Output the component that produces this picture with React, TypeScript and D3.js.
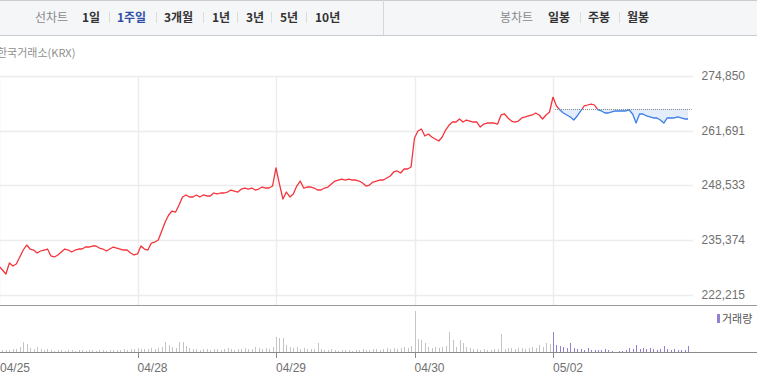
import React from 'react';
import * as d3 from 'd3';

// ---------- data ----------
const DATES = ['04/25', '04/28', '04/29', '04/30', '05/02'];

const PRICE_0425 = [229190, 228220, 227260, 229910, 229190, 229670, 231350, 233030, 234230, 233270, 233030, 232310, 232790, 233030, 233270, 231590, 231350, 231830, 232550, 233270, 233030, 232550, 233030, 233270, 233270, 233750, 233750, 233990, 233990, 233510, 233270, 232790, 233270, 233750, 233510, 233270, 233030, 233030, 232310, 231830];
const PRICE_0428 = [232070, 233990, 233270, 233030, 234710, 234950, 235430, 237600, 239760, 241440, 242400, 242160, 243850, 245770, 246250, 245770, 245770, 246250, 245770, 246250, 246010, 246010, 246730, 246490, 246730, 246730, 246970, 247450, 247210, 246970, 247690, 247930, 247690, 247930, 247450, 247690, 248170, 247930, 247930, 248410];
const PRICE_0429 = [252740, 248890, 245290, 246970, 245770, 246490, 248410, 249610, 247930, 248170, 248170, 247930, 247450, 247450, 247930, 248170, 248890, 249610, 249850, 250090, 249850, 250090, 249850, 249850, 249610, 249130, 248410, 248650, 249370, 249610, 249850, 249850, 250340, 250820, 251780, 252020, 251540, 252500, 252500, 252980];
const PRICE_0430 = [259950, 261630, 262110, 260430, 260910, 260190, 259710, 259230, 260190, 261870, 263070, 263790, 263790, 264520, 263790, 264270, 264030, 263790, 263790, 262590, 263310, 263550, 263550, 263550, 263310, 265480, 265720, 264760, 264030, 263790, 264030, 264760, 265000, 265240, 265480, 265960, 265480, 264520, 265480, 266200];
const PRICE_0502 = [269800, 267640, 266680, 265960, 265480, 265000, 264270, 265240, 266440, 267640, 267880, 268120, 267880, 266680, 266440, 265960, 265960, 266200, 266440, 266440, 266440, 266440, 266680, 265720, 263550, 265720, 265720, 265240, 265000, 264760, 264760, 264270, 263550, 264760, 264760, 264760, 265000, 264760, 264520, 264520];

const VOL_0425 = [2, 2, 2, 2, 3, 3, 5, 10, 8, 4, 3, 5, 3, 2, 3, 2, 1, 2, 2, 1, 2, 2, 1, 2, 2, 1, 2, 2, 1, 2, 2, 1, 2, 2, 2, 2, 3, 2, 3, 3];
const VOL_0428 = [4, 3, 3, 3, 4, 3, 4, 5, 10, 7, 5, 4, 10, 10, 6, 4, 3, 3, 2, 3, 3, 2, 3, 3, 2, 3, 4, 3, 2, 3, 3, 4, 3, 3, 5, 4, 3, 4, 3, 5];
const VOL_0429 = [15, 14, 14, 7, 5, 4, 5, 3, 4, 3, 3, 3, 9, 3, 2, 2, 3, 2, 1, 2, 2, 2, 1, 2, 2, 3, 2, 2, 3, 3, 2, 3, 4, 3, 4, 3, 4, 5, 4, 6];
const VOL_0430 = [41, 13, 12, 9, 5, 4, 5, 4, 5, 6, 20, 12, 5, 12, 9, 5, 4, 3, 3, 2, 3, 2, 2, 3, 3, 18, 3, 4, 4, 3, 4, 4, 3, 4, 5, 4, 7, 5, 9, 8];
const VOL_0502 = [20, 7, 6, 5, 4, 9, 4, 3, 3, 2, 4, 2, 2, 2, 2, 3, 2, 1, 0, 1, 1, 2, 4, 3, 7, 3, 4, 3, 4, 3, 2, 3, 6, 3, 2, 3, 2, 2, 2, 6];

const PRICES = [PRICE_0425, PRICE_0428, PRICE_0429, PRICE_0430, PRICE_0502];
const VOLUMES = [VOL_0425, VOL_0428, VOL_0429, VOL_0430, VOL_0502];

const Y_TICKS = [274850, 261691, 248533, 235374, 222215];
const PREV_CLOSE = 266920;

const TABS_LINE = ['1일', '1주일', '3개월', '1년', '3년', '5년', '10년'];
const TABS_CANDLE = ['일봉', '주봉', '월봉'];

// ---------- layout ----------
const W = 757;
const H = 385;
const TAB_LINE_X = [82, 117, 164, 212, 246, 280, 315];
const TAB_LINE_SEP = [109.5, 156.5, 203.5, 237.5, 271.5, 306.5];
const TAB_CANDLE_X = [548, 588, 627];
const TAB_CANDLE_SEP = [580.5, 619.5];

type Pt = { t: number; p: number; v: number; d: number };

export default function App() {
  const N = 40;
  const pts: Pt[] = [];
  PRICES.forEach((arr, d) =>
    arr.forEach((p, i) => pts.push({ t: d + i / N, p, v: VOLUMES[d][i] * 1000, d }))
  );

  const x = d3.scaleLinear().domain([0, DATES.length]).range([-1, 691.5]);
  const y = d3.scaleLinear().domain([222215, 274850]).range([295, 76]);
  const yv = d3.scaleLinear().domain([0, 47000]).range([352, 305]);

  const line = d3
    .line<Pt>()
    .x((q) => x(q.t))
    .y((q) => y(q.p));
  const yRef = y(PREV_CLOSE);
  const area = d3
    .area<Pt>()
    .x((q) => x(q.t))
    .y0(yRef)
    .y1((q) => y(q.p));

  const lastDay = DATES.length - 1;
  const past = pts.filter((q) => q.d < lastDay);
  past.push(pts.find((q) => q.d === lastDay)!);
  const today = pts.filter((q) => q.d === lastDay);
  const xToday = x(lastDay);

  const red = '#f4343c';
  const blue = '#3c7ee6';
  const font = '"Noto Sans CJK KR", "Noto Sans", sans-serif';
  const numFont = '"Liberation Sans", Arial, sans-serif';

  return (
    <div style={{ position: 'fixed', left: 0, top: 0 }}>
      <svg width={W} height={H} style={{ display: 'block', background: '#fff' }}>
        <defs>
          <clipPath id="above">
            <rect x={xToday} y={0} width={W - xToday} height={yRef} />
          </clipPath>
          <clipPath id="below">
            <rect x={xToday} y={yRef} width={W - xToday} height={H - yRef} />
          </clipPath>
        </defs>

        {/* tab bar */}
        <rect x={0} y={0} width={W} height={35} fill="#f5f6f8" />
        <line x1={0} x2={W} y1={0.5} y2={0.5} stroke="#c9cbd0" />
        <line x1={0} x2={W} y1={35.5} y2={35.5} stroke="#c9cbd0" />
        <line x1={383.5} x2={383.5} y1={0} y2={35} stroke="#d5d7db" />
        <text x={35} y={22} fontFamily={font} fontSize={12} fill="#8a8a8a">
          선차트
        </text>
        {TABS_LINE.map((t, i) => (
          <text
            key={t}
            x={TAB_LINE_X[i]}
            y={22}
            fontFamily={font}
            fontSize={12}
            fontWeight={700}
            fill={i === 1 ? '#2f4fa6' : '#333'}
          >
            {t}
          </text>
        ))}
        {TAB_LINE_SEP.map((sx) => (
          <line key={sx} x1={sx} x2={sx} y1={12} y2={23} stroke="#dcdcdc" />
        ))}
        <text x={500} y={22} fontFamily={font} fontSize={12} fill="#8a8a8a">
          봉차트
        </text>
        {TABS_CANDLE.map((t, i) => (
          <text key={t} x={TAB_CANDLE_X[i]} y={22} fontFamily={font} fontSize={12} fontWeight={700} fill="#333">
            {t}
          </text>
        ))}
        {TAB_CANDLE_SEP.map((sx) => (
          <line key={sx} x1={sx} x2={sx} y1={12} y2={23} stroke="#dcdcdc" />
        ))}

        {/* source */}
        <text x={-3} y={57} fontFamily={font} fontSize={11} fill="#8f8f8f">
          한국거래소(KRX)
        </text>

        {/* grid */}
        {Y_TICKS.map((v) => (
          <line key={v} x1={0} x2={693} y1={Math.round(y(v)) + 0.5} y2={Math.round(y(v)) + 0.5} stroke="#ececec" strokeWidth={1.5} />
        ))}
        {DATES.map((d, i) => (
          <line key={d} x1={Math.round(x(i)) + 0.5} x2={Math.round(x(i)) + 0.5} y1={76} y2={305} stroke="#ececec" strokeWidth={1.5} />
        ))}
        {Y_TICKS.map((v) => (
          <text key={'l' + v} x={745} y={y(v) + 4} textAnchor="end" fontFamily={numFont} fontSize={12} fill="#707070">
            {d3.format(',')(v)}
          </text>
        ))}

        {/* today fill & reference */}
        <path d={area(today)!} fill="#e4edfb" clipPath="url(#below)" />
        <line x1={xToday + 2} x2={x(DATES.length)} y1={Math.round(yRef) + 0.5} y2={Math.round(yRef) + 0.5} stroke="#8c8c8c" strokeDasharray="1,1" />

        {/* price lines */}
        <path d={line(past)!} fill="none" stroke={red} strokeWidth={1.3} strokeLinejoin="round" />
        <path d={line(today)!} fill="none" stroke={red} strokeWidth={1.3} strokeLinejoin="round" clipPath="url(#above)" />
        <path d={line(today)!} fill="none" stroke={blue} strokeWidth={1.3} strokeLinejoin="round" clipPath="url(#below)" />

        {/* pane separators */}
        <line x1={0} x2={W} y1={305.5} y2={305.5} stroke="#9a9a9a" />

        {/* volume */}
        {pts.map((q, i) => (
          <rect
            key={i}
            x={Math.round(x(q.t))}
            y={yv(q.v)}
            width={1}
            height={352 - yv(q.v)}
            fill={q.d === lastDay ? '#9580cf' : '#c4c4c4'}
          />
        ))}
        <line x1={0} x2={W} y1={352.5} y2={352.5} stroke="#8a8a8a" />
        <rect x={717} y={314} width={3} height={9} fill="#9580cf" />
        <text x={722} y={323} fontFamily={font} fontSize={11} fill="#555">
          거래량
        </text>

        {/* x axis */}
        {DATES.map((d, i) => (
          <g key={'x' + d}>
            <line x1={Math.round(x(i)) + 0.5} x2={Math.round(x(i)) + 0.5} y1={352} y2={358} stroke="#8a8a8a" />
            <text x={Math.max(0, x(i))} y={372} fontFamily={numFont} fontSize={12} fill="#707070">
              {d}
            </text>
          </g>
        ))}
      </svg>
    </div>
  );
}
